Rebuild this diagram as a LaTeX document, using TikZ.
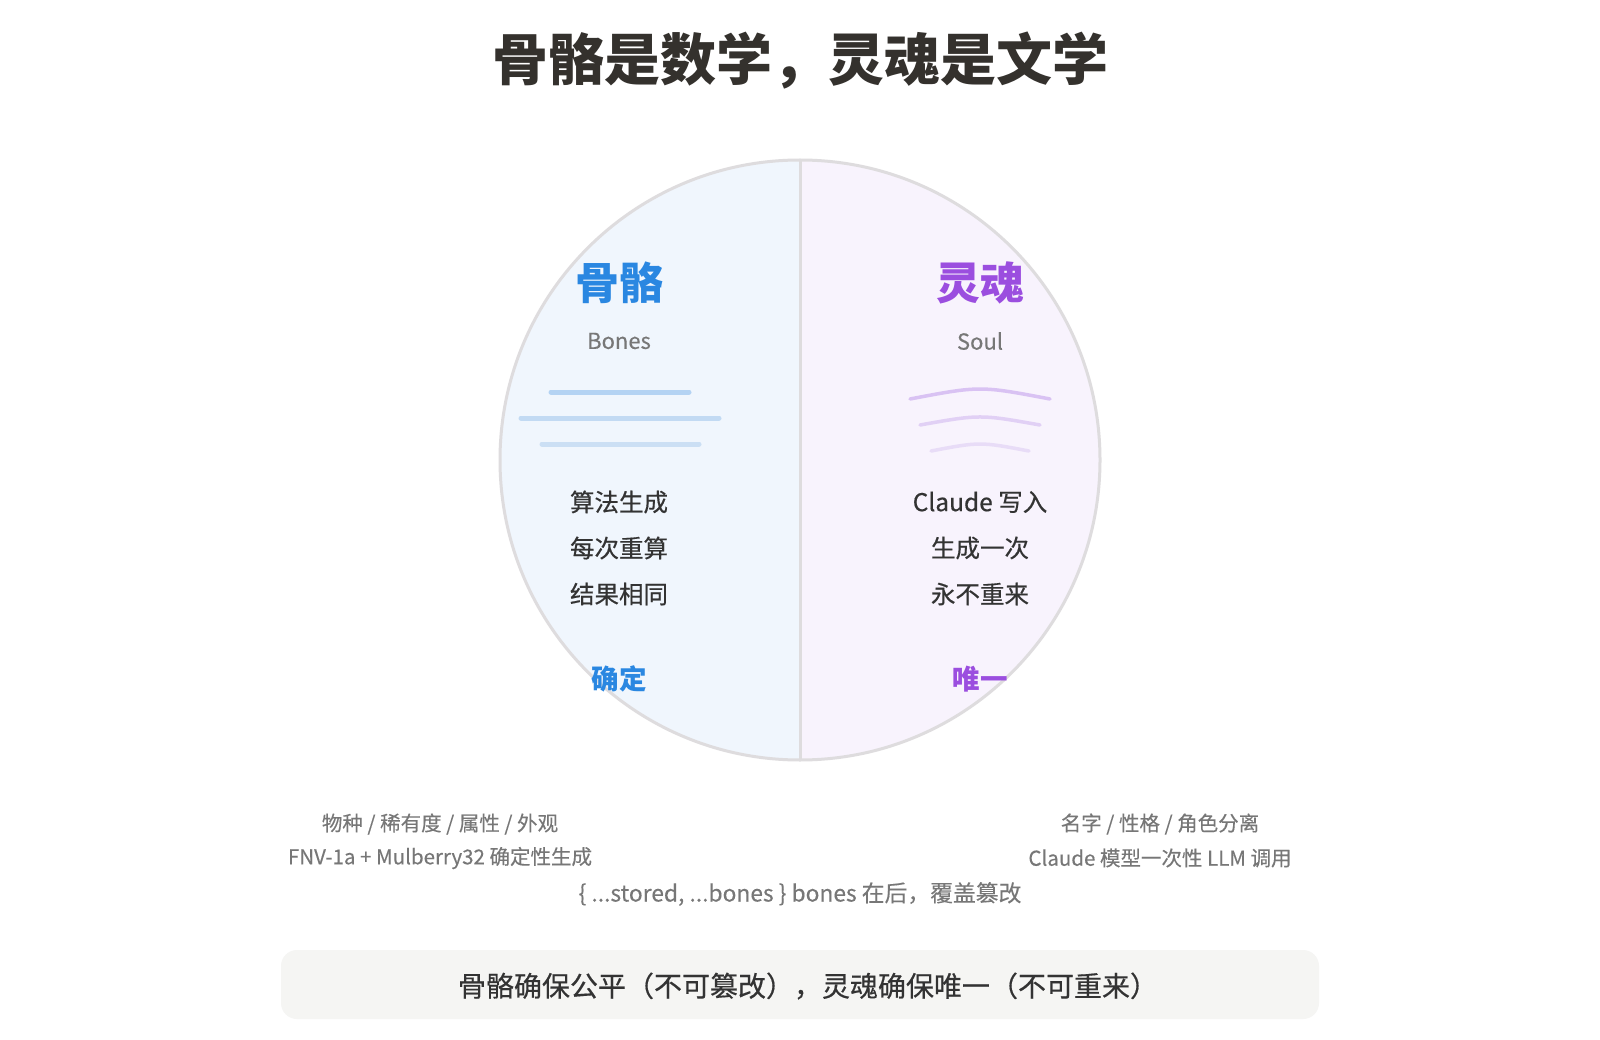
\documentclass[tikz,border=0pt]{standalone}
\usepackage{fontspec}
\setmainfont{Noto Sans CJK SC}
\newfontfamily\cjkmed[FakeBold=0.5]{Noto Sans CJK SC}
\newfontfamily\cjklt[FakeBold=0.25]{Noto Sans CJK SC}
\definecolor{titlec}{HTML}{34312D}
\definecolor{darkt}{HTML}{333333}
\definecolor{grayt}{HTML}{777777}
\definecolor{bonec}{HTML}{2A87E1}
\definecolor{soulc}{HTML}{9B4EDF}
\definecolor{leftfill}{HTML}{F0F6FD}
\definecolor{rightfill}{HTML}{F8F3FD}
\definecolor{ringc}{HTML}{DEDCDE}
\definecolor{boxfill}{HTML}{F5F5F3}
\definecolor{bl1}{HTML}{B4D3F3}
\definecolor{bl2}{HTML}{C2DAF3}
\definecolor{bl3}{HTML}{CBDFF4}
\definecolor{pa1}{HTML}{D9C2F3}
\definecolor{pa2}{HTML}{E1D0F5}
\definecolor{pa3}{HTML}{E8DCF7}
\tikzset{
  every node/.style={inner sep=0pt, anchor=center},
  ttl/.style={font=\fontsize{56}{60}\selectfont\bfseries, text=titlec},
  head/.style={font=\fontsize{44}{48}\selectfont\bfseries},
  sub/.style={font=\fontsize{22}{26}\selectfont\cjklt, text=grayt},
  item/.style={font=\fontsize{24.5}{29}\selectfont\cjkmed, text=darkt},
  tag/.style={font=\fontsize{27.5}{30}\selectfont\bfseries},
  note/.style={font=\fontsize{20.5}{24}\selectfont\cjklt, text=grayt},
  barline/.style={line width=5pt, line cap=round},
  wave/.style={line width=3.5pt, line cap=round},
}
\begin{document}
\begin{tikzpicture}[x=1pt,y=-1pt]
\useasboundingbox (0,0) rectangle (1600,1040);
\fill[white] (0,0) rectangle (1600,1040);
\node[ttl] (title) at (800,61) {骨骼是数学，灵魂是文学};
% circle
\begin{scope}
  \clip (800,460) circle (300);
  \fill[leftfill] (500,160) rectangle (800,760);
  \fill[rightfill] (800,160) rectangle (1100,760);
\end{scope}
\draw[ringc, line width=3pt] (800,460) circle (300);
\coordinate (dtop) at (800,160);
\coordinate (dbot) at (800,760);
\draw[ringc, line width=3pt] (dtop) -- (dbot);
% left
\node[head, text=bonec] (bonesh) at (619,283) {骨骼};
\node[sub] (bonesen) at (619,341) {Bones};
\coordinate (b1a) at (551,392); \coordinate (b1b) at (689,392);
\coordinate (b2a) at (521,418); \coordinate (b2b) at (719,418);
\coordinate (b3a) at (542,444); \coordinate (b3b) at (699,444);
\draw[barline, bl1] (b1a) -- (b1b);
\draw[barline, bl2] (b2a) -- (b2b);
\draw[barline, bl3] (b3a) -- (b3b);
\node[item] (l1) at (619,502) {算法生成};
\node[item] (l2) at (619,548) {每次重算};
\node[item] (l3) at (619,594) {结果相同};
\node[tag, text=bonec] (ltag) at (619,679) {确定};
% right
\node[head, text=soulc] (soulh) at (980,283) {灵魂};
\node[sub] (soulen) at (980,341) {Soul};
\coordinate (s1a) at (910,399); \coordinate (s1b) at (1050,399);
\coordinate (s2a) at (920,425); \coordinate (s2b) at (1040,425);
\coordinate (s3a) at (931,451); \coordinate (s3b) at (1029,451);
\draw[wave, pa1] (s1a) .. controls (980,385.7) .. (s1b);
\draw[wave, pa2] (s2a) .. controls (980,414.3) .. (s2b);
\draw[wave, pa3] (s3a) .. controls (980,441.7) .. (s3b);
\node[item] (r1) at (980,502) {Claude 写入};
\node[item] (r2) at (980,548) {生成一次};
\node[item] (r3) at (980,594) {永不重来};
\node[tag, text=soulc] (rtag) at (980,679) {唯一};
% notes
\node[note] (n1) at (440,824) {物种 / 稀有度 / 属性 / 外观};
\node[note] (n2) at (440,858) {FNV-1a + Mulberry32 确定性生成};
\node[note] (n3) at (1160,824) {名字 / 性格 / 角色分离};
\node[note] (n4) at (1160,858) {Claude 模型一次性 LLM 调用};
\node[note, font=\fontsize{22.8}{26}\selectfont\cjklt] (n5) at (800,894) {\{ ...stored, ...bones \} bones 在后，覆盖篡改};
% bottom box
\fill[boxfill, rounded corners=16pt] (281,950) rectangle (1319,1019);
\node[font=\fontsize{28}{32}\selectfont\cjkmed, text=darkt] (summary) at (808,986) {骨骼确保公平（不可篡改），灵魂确保唯一（不可重来）};
\end{tikzpicture}
\end{document}
